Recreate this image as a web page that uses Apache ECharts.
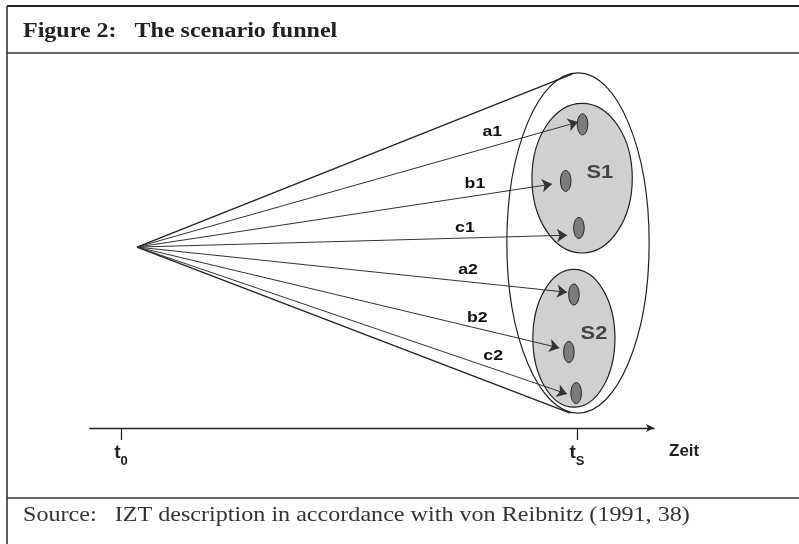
<!DOCTYPE html>
<html>
<head>
<meta charset="utf-8">
<script src="https://cdn.jsdelivr.net/npm/echarts@6/dist/echarts.min.js"></script>
<style>
  html, body { margin: 0; background: #fff; }
  #chart { width: 799px; height: 544px; }
</style>
</head>
<body>
<div id="chart"></div>
<script>
// time axis: t0 = today, tS = scenario horizon
const timeTicks = [0, 100];
const timeSubs = ['0', 'S'];

// apex of the funnel (today) and where the funnel edges touch the horizon
const apex = [3.5, 0];
const funnelEdgeX = [98.9, 98.5];
const funnelEdgeY = [37.9, -36.4];

// horizon ellipse at tS: x, y, rx, ry
const horizon = [100.2, 0.9, 15.6, 37.3];

// scenario clusters
const clusterNames = ['S1', 'S2'];
const clusterX = [101.1, 99.3];
const clusterY = [15.1, -20.0];
const clusterRx = [11.0, 9.0];
const clusterRy = [16.4, 15.1];
const clusterLabelX = [105.0, 103.7];
const clusterLabelY = [16.2, -18.9];

// development paths and their end states
const pathNames = ['a1', 'b1', 'c1', 'a2', 'b2', 'c2'];
const pathEndX = [100.2, 94.5, 97.8, 97.8, 96.1, 97.8];
const pathEndY = [27.4, 13.8, 2.6, -9.9, -22.1, -32.2];
const pathLabelX = [81.4, 77.6, 75.4, 76.1, 78.1, 81.6];
const pathLabelY = [25.2, 13.8, 4.2, -5.0, -15.6, -23.9];
const endStateX = [101.2, 97.5, 100.4, 99.3, 98.2, 99.8];
const endStateY = [26.9, 14.5, 4.2, -10.4, -23.0, -32.0];
const endStateRx = 1.15;
const endStateRy = 2.3;

const INK = '#222';
const SANS = '"Liberation Sans", Arial, sans-serif';
const SERIF = '"Liberation Serif", "Times New Roman", serif';

function ellipseItem(fill, stroke, lw) {
    return function (params, api) {
        const c = api.coord([api.value(0), api.value(1)]);
        const s = api.size([api.value(2), api.value(3)]);
        return {
            type: 'ellipse',
            shape: {cx: c[0], cy: c[1], rx: s[0], ry: s[1]},
            style: {fill: fill, stroke: stroke, lineWidth: lw}
        };
    };
}

// the original lettering is a bit wider than our fonts, hence scaleX
function textItem(names, size, color, sx) {
    return function (params, api) {
        const c = api.coord([api.value(0), api.value(1)]);
        return {
            type: 'text',
            x: c[0], y: c[1], scaleX: sx,
            style: {
                text: names[params.dataIndex], align: 'center', verticalAlign: 'middle',
                fontFamily: SANS, fontWeight: 'bold', fontSize: size, fill: color
            }
        };
    };
}

let chart = echarts.init(document.getElementById('chart'));

const option = {
    animation: false,
    backgroundColor: '#fff',
    graphic: [
        {type: 'line', shape: {x1: 7, y1: 6, x2: 799, y2: 6}, style: {stroke: INK, lineWidth: 2}},
        {type: 'line', shape: {x1: 7, y1: 53, x2: 799, y2: 53}, style: {stroke: '#333', lineWidth: 1.6}},
        {type: 'line', shape: {x1: 7, y1: 498, x2: 799, y2: 498}, style: {stroke: '#333', lineWidth: 1.6}},
        {type: 'line', shape: {x1: 7, y1: 6, x2: 7, y2: 544}, style: {stroke: '#333', lineWidth: 1.6}},
        {
            type: 'text', x: 23, y: 22, scaleX: 1.2,
            style: {
                text: 'Figure 2:   The scenario funnel', verticalAlign: 'top',
                fontFamily: SERIF, fontSize: 20, fontWeight: 'bold', fill: INK
            }
        },
        {
            type: 'text', x: 23, y: 505, scaleX: 1.148,
            style: {
                text: 'Source:   IZT description in accordance with von Reibnitz (1991, 38)', verticalAlign: 'top',
                fontFamily: SERIF, fontSize: 21, fill: '#333'
            }
        }
    ],
    grid: [
        {left: 7, right: 3, top: 55, bottom: 46, outerBoundsMode: 'none'},
        {left: 90, right: 145, top: 400, bottom: 116, outerBoundsMode: 'none'}
    ],
    xAxis: [
        {gridIndex: 0, type: 'value', min: -25, max: 148, show: false},
        {
            gridIndex: 1, type: 'value', min: -6.8, max: 116.9,
            splitLine: {show: false},
            axisLine: {
                show: true, symbol: ['none', 'arrow'], symbolSize: [6, 8],
                lineStyle: {color: INK, width: 1.3}
            },
            axisTick: {show: true, customValues: timeTicks, length: 12, lineStyle: {color: INK, width: 1.3}},
            axisLabel: {
                show: true, customValues: timeTicks, margin: 9,
                formatter: function (v) {
                    return '{t|t}{s|' + timeSubs[timeTicks.indexOf(v)] + '}';
                },
                rich: {
                    t: {fontFamily: SANS, fontWeight: 'bold', fontSize: 19, color: INK, lineHeight: 22},
                    s: {fontFamily: SANS, fontWeight: 'bold', fontSize: 13, color: INK, padding: [18, 0, 0, 0]}
                }
            },
            name: 'Zeit', nameLocation: 'end', nameGap: 15,
            nameTextStyle: {
                fontFamily: SANS, fontWeight: 'bold', fontSize: 17, color: INK,
                align: 'left', verticalAlign: 'top', padding: [15, 0, 0, 0]
            }
        }
    ],
    yAxis: [
        {gridIndex: 0, type: 'value', min: -55, max: 42.1, show: false},
        {gridIndex: 1, type: 'value', min: 0, max: 1, show: false}
    ],
    series: [
        {
            type: 'custom', name: 'horizon', xAxisIndex: 0, yAxisIndex: 0, silent: true,
            renderItem: ellipseItem('none', INK, 1.2),
            data: [horizon]
        },
        {
            type: 'lines', name: 'funnel', coordinateSystem: 'cartesian2d', xAxisIndex: 0, yAxisIndex: 0, silent: true,
            symbol: 'none',
            lineStyle: {color: INK, width: 1.3, opacity: 1},
            data: funnelEdgeX.map((x, i) => ({coords: [apex, [x, funnelEdgeY[i]]]}))
        },
        {
            type: 'custom', name: 'clusters', xAxisIndex: 0, yAxisIndex: 0, silent: true,
            renderItem: ellipseItem('#d0d0d0', INK, 1.2),
            data: clusterNames.map((n, i) => [clusterX[i], clusterY[i], clusterRx[i], clusterRy[i]])
        },
        {
            type: 'lines', name: 'paths', coordinateSystem: 'cartesian2d', xAxisIndex: 0, yAxisIndex: 0, silent: true,
            symbol: ['none', 'arrow'], symbolSize: [7, 10],
            lineStyle: {color: '#333', width: 1, opacity: 1},
            data: pathNames.map((n, i) => ({coords: [apex, [pathEndX[i], pathEndY[i]]]}))
        },
        {
            type: 'custom', name: 'end states', xAxisIndex: 0, yAxisIndex: 0, silent: true,
            renderItem: ellipseItem('#7c7c7c', INK, 1),
            data: pathNames.map((n, i) => [endStateX[i], endStateY[i], endStateRx, endStateRy])
        },
        {
            type: 'custom', name: 'path labels', xAxisIndex: 0, yAxisIndex: 0, silent: true,
            renderItem: textItem(pathNames, 15, '#111', 1.18),
            data: pathNames.map((n, i) => [pathLabelX[i], pathLabelY[i]])
        },
        {
            type: 'custom', name: 'cluster labels', xAxisIndex: 0, yAxisIndex: 0, silent: true,
            renderItem: textItem(clusterNames, 19, '#444', 1.15),
            data: clusterNames.map((n, i) => [clusterLabelX[i], clusterLabelY[i]])
        }
    ]
};

chart.setOption(option);
</script>
</body>
</html>
